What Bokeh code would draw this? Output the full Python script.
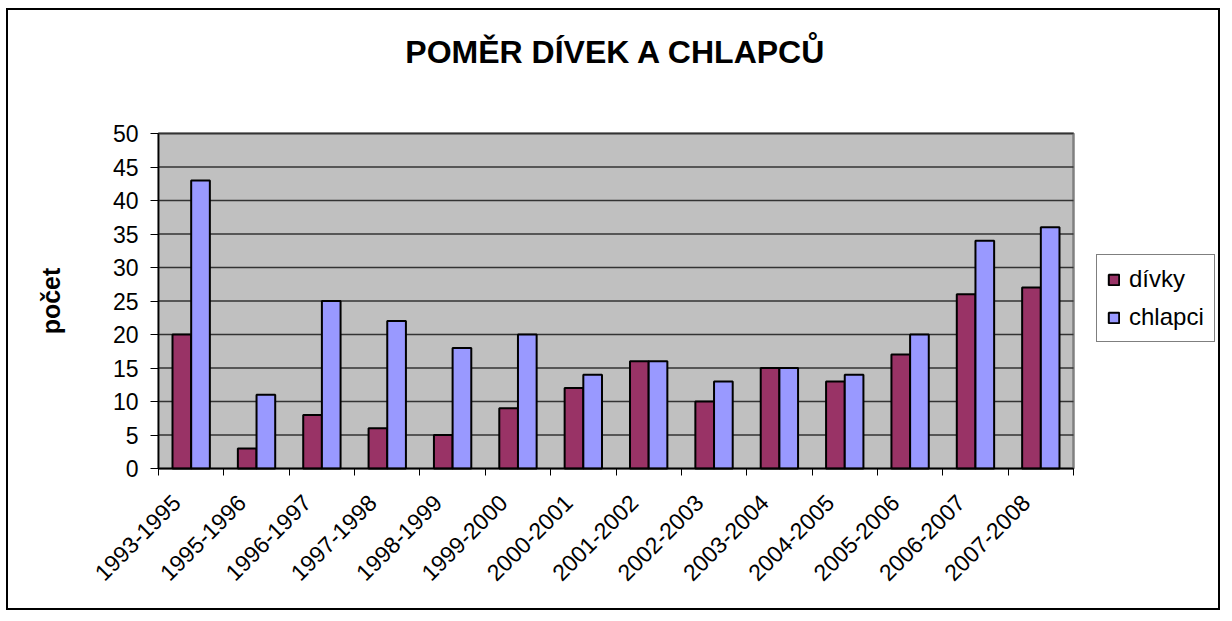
import math
import numpy as np
from bokeh.plotting import figure
from bokeh.models import (ColumnDataSource, FixedTicker, Range1d, Legend, LegendItem, Label)
from bokeh.core.properties import value
from bokeh.embed import file_html
from bokeh.resources import INLINE

categories = ["1993-1995", "1995-1996", "1996-1997", "1997-1998", "1998-1999",
              "1999-2000", "2000-2001", "2001-2002", "2002-2003", "2003-2004",
              "2004-2005", "2005-2006", "2006-2007", "2007-2008"]
divky = [20, 3, 8, 6, 5, 9, 12, 16, 10, 15, 13, 17, 26, 27]
chlapci = [43, 11, 25, 22, 18, 20, 14, 16, 13, 15, 14, 20, 34, 36]
y_ticks = [0, 5, 10, 15, 20, 25, 30, 35, 40, 45, 50]
title_text = "POMĚR DÍVEK A CHLAPCŮ"
y_label = "počet"
series_names = ["dívky", "chlapci"]

FONT = "Liberation Sans"
n = len(categories)
idx = np.arange(n)
bw = 1 / 3.5
YMAX = 50

# ---- page geometry (pixels)
W, H = 1214, 602
BL, BR, BT, BB = 20, 6, 10, 20
ORG_X, ORG_Y = 8, 10                 # page position of the figure canvas
FL, FR = ORG_X + BL, ORG_X + W - BR  # frame edges on the page
FT, FB = ORG_Y + BT, ORG_Y + H - BB
PA_L, PA_R, PA_T, PA_B = 158, 1073, 133, 468   # grey plot area on the page
ppx = (PA_R - PA_L) / n              # px per category
ppy = (PA_B - PA_T) / YMAX           # px per unit

def dx(px):
    return -0.5 + (px - PA_L) / ppx

def dy(py):
    return (PA_B - py) / ppy

x_start, x_end = dx(FL), dx(FR)
y_start, y_end = dy(FB), dy(FT)

src = ColumnDataSource(dict(xd=idx - bw / 2, xc=idx + bw / 2, d=divky, c=chlapci))

p = figure(width=W, height=H, output_backend="svg", toolbar_location=None,
           x_range=Range1d(x_start, x_end), y_range=Range1d(y_start, y_end),
           min_border_left=BL, min_border_right=BR, min_border_top=BT, min_border_bottom=BB)
p.styles = {"border": "2px solid black", "margin-left": "6px", "margin-top": "8px"}
p.background_fill_color = "white"
p.border_fill_color = "white"
p.outline_line_color = None
p.xgrid.visible = False
p.ygrid.visible = False

# plot area
p.quad(left=[-0.5], right=[n - 0.5], bottom=[0], top=[YMAX], fill_color="#C0C0C0",
       line_color="#808080", line_width=2.5, level="image")
# gridlines
p.segment(x0=[-0.5] * len(y_ticks), x1=[n - 0.5] * len(y_ticks), y0=y_ticks, y1=y_ticks,
          line_color="#333333", line_width=1.5, level="underlay")

r1 = p.vbar(x="xd", top="d", width=bw, source=src, fill_color="#993366",
            line_color="black", line_width=2)
r2 = p.vbar(x="xc", top="c", width=bw, source=src, fill_color="#9999FF",
            line_color="black", line_width=2)

# y axis, pinned to the left edge of the plot area
ya = p.yaxis[0]
ya.fixed_location = -0.5
ya.bounds = (0, YMAX)
ya.ticker = FixedTicker(ticks=y_ticks)
ya.axis_line_color = "black"
ya.axis_line_width = 1.5
ya.major_tick_in = 0
ya.major_tick_out = 8
ya.major_tick_line_color = "black"
ya.minor_tick_line_color = None
ya.major_label_text_font = FONT
ya.major_label_text_font_size = "23px"
ya.major_label_text_color = "black"
ya.major_label_standoff = 12

# x axis, pinned to y = 0; ticks at category boundaries
xa = p.xaxis[0]
xa.fixed_location = 0
xa.bounds = (-0.5, n - 0.5)
xa.ticker = FixedTicker(ticks=[], minor_ticks=list(np.arange(n + 1) - 0.5))
xa.major_tick_line_color = None
xa.minor_tick_line_color = "black"
xa.minor_tick_in = 0
xa.minor_tick_out = 7
xa.axis_line_color = "black"
xa.axis_line_width = 1.5
xa.major_label_text_font_size = "0px"

# category labels, rotated 45 degrees, ending just left of each category centre
p.text(x=idx + (-15 / ppx), y=[dy(PA_B + 30)] * n, text=categories, angle=math.pi / 4,
       text_align="right", text_baseline="middle", text_font=value(FONT),
       text_font_size="23px", text_color="black")

# y-axis title
p.text(x=[dx(50)], y=[YMAX / 2], text=[y_label], angle=math.pi / 2,
       text_align="center", text_baseline="middle", text_font=value(FONT),
       text_font_size="25px", text_font_style="bold", text_color="black")

# chart title
p.add_layout(Label(x=(n - 1) / 2, y=dy(51), text=title_text,
                   text_align="center", text_baseline="middle", text_font=FONT,
                   text_font_size="32px", text_font_style="bold", text_color="black"))

legend = Legend(items=[LegendItem(label=series_names[0], renderers=[r1]),
                       LegendItem(label=series_names[1], renderers=[r2])],
                location=(1096 - FL, FB - 342))
legend.border_line_color = "black"
legend.border_line_width = 1
legend.background_fill_color = "white"
legend.background_fill_alpha = 1
legend.label_text_font = FONT
legend.label_text_font_size = "24px"
legend.label_text_color = "black"
legend.glyph_width = 13
legend.glyph_height = 13
legend.label_standoff = 9
legend.padding = 10
legend.spacing = 10
legend.label_height = 28
legend.margin = 0
p.add_layout(legend, "center")

open("out.html", "w").write(file_html(p, INLINE))
